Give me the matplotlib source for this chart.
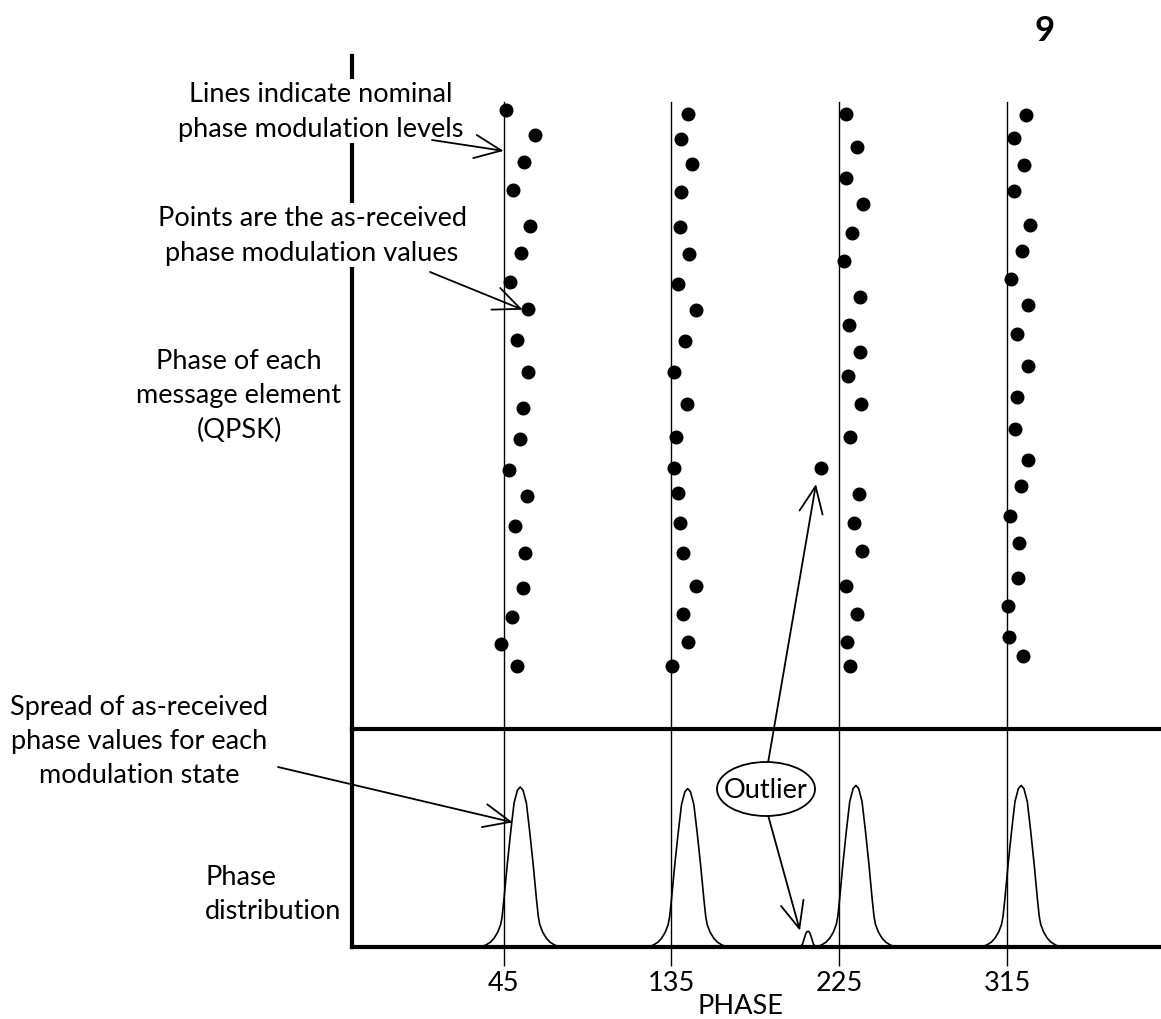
import numpy as np
import matplotlib.pyplot as plt
from matplotlib.patches import Ellipse

plt.rcParams['font.family'] = ['Lato', 'DejaVu Sans']

W, H = 1161, 1020

# nominal QPSK phase levels (deg)
nominal_phase = [45, 135, 225, 315]
tick_labels = ['45', '135', '225', '315']

# as-received phase of each message element, one list per modulation state
phase_45 = [46.3, 62.0, 56.1, 50.2, 58.9, 54.5, 48.4, 57.9, 52.0, 58.1,
            55.2, 53.8, 48.1, 57.3, 51.3, 56.2, 55.4, 49.7, 43.8, 52.0]
elem_45 = [92.0, 88.3, 84.2, 80.1, 74.7, 70.7, 66.4, 62.4, 57.8, 53.0,
           47.7, 43.1, 38.5, 34.6, 30.2, 26.2, 21.0, 16.6, 12.6, 9.4]

phase_135 = [143.9, 140.1, 146.0, 140.1, 139.4, 144.4, 138.5, 147.9, 142.1, 136.2,
             143.6, 137.3, 136.4, 138.5, 139.8, 141.1, 148.4, 141.4, 144.1, 135.5]
elem_135 = [91.4, 87.7, 84.0, 79.8, 74.6, 70.6, 66.1, 62.3, 57.7, 53.0,
            48.3, 43.4, 38.8, 35.1, 30.6, 26.2, 21.2, 17.1, 12.9, 9.4]

phase_225 = [228.4, 234.3, 228.7, 237.9, 232.0, 227.5, 236.1, 230.4, 235.9, 229.4,
             236.4, 230.5, 235.3, 232.9, 237.3, 228.7, 234.5, 229.1, 230.5]
elem_225 = [91.4, 86.5, 81.9, 78.0, 73.7, 69.5, 64.2, 60.0, 56.0, 52.5,
            48.3, 43.4, 34.9, 30.6, 26.4, 21.2, 17.1, 12.9, 9.4]

phase_315 = [325.2, 318.9, 324.3, 318.5, 327.3, 322.7, 316.8, 326.0, 320.4, 326.4,
             320.4, 319.1, 326.4, 322.5, 316.6, 321.6, 320.7, 315.2, 316.2, 323.7]
elem_315 = [91.2, 87.8, 83.8, 79.9, 74.9, 71.0, 66.9, 63.0, 58.7, 53.9,
            49.3, 44.6, 40.0, 36.1, 31.6, 27.6, 22.4, 18.3, 13.7, 10.8]

outlier_phase = 215.0
outlier_elem = 38.8

profile_offset = [0, 1.5, 3.3, 5.1, 7.0, 8.7, 9.7, 10.5, 12.0, 14.0, 16.0, 18.5, 21.5]
profile_height = [1.0, 0.98, 0.90, 0.72, 0.51, 0.30, 0.19, 0.14, 0.094, 0.055, 0.03, 0.012, 0.0]

peak_center = [53.9, 143.7, 233.9, 322.5]
peak_height = [1.0, 0.99, 1.01, 1.01]

bump_center = 208.2
bump_height = 0.098
bump_width = 0.3


def fig_xy(px, py):
    return px / W, 1 - py / H


FS = 19.5
LS = 1.45

fig = plt.figure(figsize=(W / 100, H / 100), dpi=100)

x0 = 352 / W
ax_top = fig.add_axes([x0, (H - 730) / H, 1 - x0, (730 - 57) / H])
ax_bot = fig.add_axes([x0, (H - 948) / H, 1 - x0, (948 - 730) / H])

xlim = (-36.3, 397.5)
for ax in (ax_top, ax_bot):
    ax.set_xlim(*xlim)
    ax.patch.set_visible(False)
    for s in ('top', 'right'):
        ax.spines[s].set_visible(False)
    for s in ('left', 'bottom'):
        ax.spines[s].set_linewidth(3)
    ax.set_yticks([])

ax_top.set_ylim(0, 100)
ax_top.set_xticks([])
ax_bot.set_ylim(0, 218 / 160)

# nominal phase lines
for p in nominal_phase:
    ax_top.axvline(p, ymin=0, ymax=(730 - 103) / 673, color='black', lw=1.0)
    ax_bot.axvline(p, color='black', lw=1.0)

ax_bot.set_xticks(nominal_phase)
ax_bot.set_xticklabels(tick_labels, fontsize=FS)
ax_bot.tick_params(axis='x', direction='out', length=13.5, width=1.0, pad=3)

# received points
for ph, el in [(phase_45, elem_45), (phase_135, elem_135),
               (phase_225, elem_225), (phase_315, elem_315)]:
    ax_top.scatter(ph, el, s=82, color='black', zorder=3, clip_on=False)
ax_top.scatter([outlier_phase], [outlier_elem], s=82, color='black', zorder=3)

# phase distribution curves
off = np.array(profile_offset)
hgt = np.array(profile_height)
off_full = np.concatenate([-off[::-1], off[1:]])
hgt_full = np.concatenate([hgt[::-1], hgt[1:]])
for c, h in zip(peak_center, peak_height):
    ax_bot.plot(c + off_full, h * hgt_full, color='black', lw=1.2)
ax_bot.plot(bump_center + bump_width * off_full, bump_height * hgt_full,
            color='black', lw=1.2)

# annotation texts
txt_kw = dict(ha='center', va='center', fontsize=FS, linespacing=LS,
              transform=fig.transFigure, zorder=4)
box = dict(boxstyle='square,pad=0.1', fc='white', ec='none')

ax_top.text(*fig_xy(321, 112), 'Lines indicate nominal\nphase modulation levels',
            bbox=box, clip_on=False, **txt_kw)
ax_top.text(*fig_xy(312, 236), 'Points are the as-received\nphase modulation values',
            bbox=box, clip_on=False, **txt_kw)
ax_top.text(*fig_xy(239, 396), 'Phase of each\nmessage element\n(QPSK)',
            clip_on=False, **txt_kw)
fig.text(*fig_xy(139, 742), 'Spread of as-received\nphase values for each\nmodulation state',
         ha='center', va='center', fontsize=FS, linespacing=LS)
fig.text(*fig_xy(205, 895), 'Phase\ndistribution', ha='left', va='center',
         fontsize=FS, linespacing=LS)
fig.text(*fig_xy(1045, 31), '9', ha='center', va='center', fontsize=25,
         fontweight='bold')
fig.text(*fig_xy(740, 1007), 'PHASE', ha='center', va='center', fontsize=FS)

# outlier ellipse
fig.add_artist(Ellipse(fig_xy(766, 790), 98 / W, 54 / H, transform=fig.transFigure,
                       fc='white', ec='black', lw=1.3, zorder=4))
fig.text(*fig_xy(766, 790), 'Outlier', ha='center', va='center', fontsize=FS,
         zorder=5)

arrow = dict(arrowstyle='->,head_length=0.8,head_width=0.35', color='black',
             lw=1.3, shrinkA=0, shrinkB=0, mutation_scale=24)

ax_top.annotate('', xy=(45, 85.9), xytext=fig_xy(432, 141),
                textcoords='figure fraction', arrowprops=arrow,
                annotation_clip=False, zorder=6)
ax_top.annotate('', xy=(55.2, 62.3), xytext=fig_xy(430, 273),
                textcoords='figure fraction', arrowprops=arrow,
                annotation_clip=False, zorder=6)
ax_bot.annotate('', xy=(49.9, 0.779), xytext=fig_xy(278, 768),
                textcoords='figure fraction', arrowprops=arrow,
                annotation_clip=False, zorder=6)
ax_top.annotate('', xy=(212.5, 36.4), xytext=fig_xy(768, 764),
                textcoords='figure fraction', arrowprops=arrow,
                annotation_clip=False, zorder=6)
ax_bot.annotate('', xy=(203.9, 0.102), xytext=fig_xy(768, 816),
                textcoords='figure fraction', arrowprops=arrow,
                annotation_clip=False, zorder=6)

fig.savefig('out.png', dpi=100)
